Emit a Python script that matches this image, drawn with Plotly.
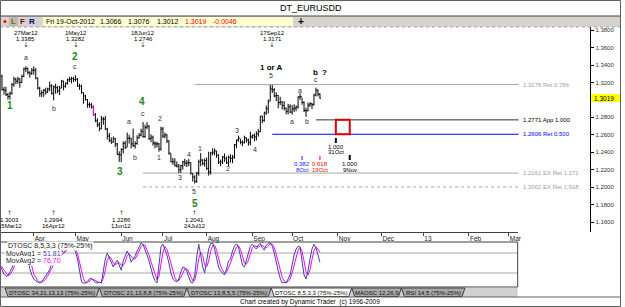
import numpy as np
import pandas as pd
import plotly.graph_objects as go

W, H = 625, 307

# ---------------- data ----------------
START_DATE = "2012-03-07"
END_DATE = "2012-10-19"

OPEN = [1.3125,1.3140,1.3270,1.3120,1.3110,1.3060,1.3040,1.3075,1.3175,1.3240,1.3215,1.3240,1.3200,1.3270,1.3355,1.3360,1.3315,1.3305,
        1.3340,1.3340,1.3250,1.3135,1.3070,1.3085,1.3110,1.3090,1.3125,1.3160,1.3075,1.3150,1.3140,1.3105,1.3135,1.3215,1.3155,1.3190,1.3230,1.3235,1.3245,
        1.3235,1.3235,1.3160,1.3155,1.3085,1.3045,1.3005,1.2945,1.2945,1.2915,1.2830,1.2760,1.2715,1.2670,1.2780,1.2780,1.2665,1.2585,1.2535,1.2515,1.2555,1.2495,1.2375,
        1.2370,1.2430,1.2500,1.2455,1.2560,1.2560,1.2495,1.2475,1.2500,1.2565,1.2595,1.2640,1.2580,1.2685,1.2700,1.2555,1.2570,1.2505,1.2495,1.2495,1.2435,
        1.2665,1.2585,1.2600,1.2530,1.2390,1.2290,1.2290,1.2250,1.2240,1.2200,1.2245,1.2290,1.2275,1.2275,1.2280,1.2155,1.2115,1.2065,1.2160,1.2290,1.2310,1.2270,
        1.2305,1.2215,1.2175,1.2390,1.2400,1.2415,1.2365,1.2285,1.2290,1.2345,1.2330,1.2280,1.2340,1.2330,1.2345,1.2485,1.2540,1.2560,1.2515,1.2510,1.2565,1.2540,1.2510,
        1.2575,1.2590,1.2575,1.2610,1.2635,1.2815,1.2765,1.2850,1.2900,1.2985,1.3125,1.3115,1.3045,1.3050,1.2970,1.2975,1.2935,1.2905,1.2870,1.2920,
        1.2860,1.2895,1.2905,1.2920,1.3035,1.3035,1.2970,1.2880,1.2875,1.2940,1.2955,1.2945,1.3055,1.3110,1.3066]
HIGH = [1.3155,1.3290,1.3290,1.3150,1.3150,1.3080,1.3095,1.3195,1.3265,1.3250,1.3265,1.3245,1.3290,1.3370,1.3385,1.3370,1.3330,1.3365,
        1.3383,1.3365,1.3255,1.3150,1.3110,1.3125,1.3140,1.3140,1.3210,1.3180,1.3165,1.3185,1.3160,1.3160,1.3230,1.3220,1.3200,1.3245,1.3265,1.3265,1.3265,
        1.3282,1.3250,1.3185,1.3175,1.3085,1.3060,1.3010,1.2975,1.2965,1.2940,1.2850,1.2790,1.2745,1.2815,1.2805,1.2815,1.2680,1.2620,1.2570,1.2580,1.2565,1.2505,1.2410,
        1.2445,1.2525,1.2530,1.2626,1.2600,1.2565,1.2672,1.2525,1.2595,1.2620,1.2670,1.2746,1.2715,1.2745,1.2710,1.2605,1.2590,1.2525,1.2520,1.2505,1.2693,
        1.2690,1.2625,1.2605,1.2535,1.2385,1.2335,1.2330,1.2295,1.2265,1.2255,1.2300,1.2325,1.2310,1.2325,1.2285,1.2160,1.2135,1.2175,1.2315,1.2390,1.2320,1.2330,
        1.2340,1.2405,1.2405,1.2445,1.2443,1.2415,1.2380,1.2315,1.2355,1.2385,1.2350,1.2360,1.2375,1.2370,1.2495,1.2545,1.2590,1.2550,1.2535,1.2590,1.2570,1.2555,1.2635,
        1.2605,1.2615,1.2640,1.2665,1.2815,1.2815,1.2865,1.2935,1.3005,1.3170,1.3171,1.3135,1.3085,1.3055,1.3035,1.2985,1.2985,1.2910,1.2955,1.2950,
        1.2940,1.2950,1.2935,1.3040,1.3075,1.3025,1.2985,1.2910,1.2970,1.2975,1.2965,1.3070,1.3140,1.3120,1.3076]
LOW = [1.3105,1.3140,1.3105,1.3060,1.3045,1.3005,1.3003,1.3060,1.3150,1.3180,1.3185,1.3140,1.3195,1.3260,1.3320,1.3290,1.3255,1.3285,
       1.3290,1.3235,1.3120,1.3035,1.3030,1.3035,1.3060,1.3080,1.3100,1.3060,1.2994,1.3070,1.3075,1.3055,1.3135,1.3110,1.3140,1.3175,1.3205,1.3190,1.3205,
       1.3210,1.3150,1.3115,1.3070,1.2955,1.2990,1.2910,1.2910,1.2900,1.2815,1.2745,1.2690,1.2640,1.2665,1.2715,1.2655,1.2545,1.2515,1.2495,1.2510,1.2460,1.2370,1.2290,
       1.2286,1.2385,1.2435,1.2460,1.2500,1.2445,1.2460,1.2440,1.2485,1.2555,1.2580,1.2565,1.2565,1.2665,1.2540,1.2515,1.2475,1.2445,1.2455,1.2406,1.2420,
       1.2560,1.2560,1.2505,1.2370,1.2285,1.2255,1.2235,1.2225,1.2160,1.2165,1.2200,1.2240,1.2230,1.2240,1.2145,1.2065,1.2041,1.2050,1.2130,1.2240,1.2250,1.2235,
       1.2195,1.2132,1.2145,1.2365,1.2365,1.2335,1.2265,1.2240,1.2265,1.2290,1.2265,1.2240,1.2280,1.2275,1.2325,1.2445,1.2520,1.2490,1.2470,1.2500,1.2510,1.2475,1.2480,
       1.2555,1.2525,1.2535,1.2580,1.2630,1.2735,1.2750,1.2830,1.2845,1.2990,1.3080,1.3030,1.2985,1.2905,1.2940,1.2890,1.2880,1.2835,1.2835,1.2850,
       1.2830,1.2860,1.2870,1.2900,1.3000,1.2945,1.2860,1.2805,1.2870,1.2920,1.2895,1.2935,1.3040,1.3040,1.3012]
CLOSE = [1.3140,1.3270,1.3120,1.3110,1.3060,1.3040,1.3075,1.3175,1.3240,1.3215,1.3240,1.3200,1.3270,1.3355,1.3360,1.3315,1.3305,1.3340,
         1.3340,1.3250,1.3135,1.3070,1.3085,1.3110,1.3090,1.3125,1.3160,1.3075,1.3150,1.3140,1.3105,1.3135,1.3215,1.3155,1.3190,1.3230,1.3235,1.3245,1.3235,
         1.3235,1.3160,1.3155,1.3085,1.3045,1.3005,1.2945,1.2945,1.2915,1.2830,1.2760,1.2715,1.2670,1.2780,1.2780,1.2665,1.2585,1.2535,1.2515,1.2555,1.2495,1.2375,1.2370,
         1.2430,1.2500,1.2455,1.2560,1.2560,1.2495,1.2475,1.2500,1.2565,1.2595,1.2640,1.2580,1.2685,1.2700,1.2555,1.2570,1.2505,1.2495,1.2495,1.2435,1.2665,
         1.2585,1.2600,1.2530,1.2390,1.2290,1.2290,1.2250,1.2240,1.2200,1.2245,1.2290,1.2275,1.2275,1.2280,1.2155,1.2115,1.2065,1.2160,1.2290,1.2310,1.2270,1.2305,
         1.2215,1.2175,1.2390,1.2400,1.2415,1.2365,1.2285,1.2290,1.2345,1.2330,1.2280,1.2340,1.2330,1.2345,1.2485,1.2540,1.2560,1.2515,1.2510,1.2565,1.2540,1.2510,1.2575,
         1.2590,1.2575,1.2610,1.2635,1.2815,1.2765,1.2850,1.2900,1.2985,1.3125,1.3115,1.3045,1.3050,1.2970,1.2975,1.2935,1.2905,1.2870,1.2920,1.2860,
         1.2895,1.2905,1.2920,1.3035,1.3035,1.2970,1.2880,1.2875,1.2940,1.2955,1.2945,1.3055,1.3110,1.3065,1.3019]

OSC_FAST = [40,44,33,22,17,18,28,37,55,68,75,72,82,93,97,70,36,20,
            10,5,2,0,3,10,18,26,33,50,58,65,60,66,82,76,80,88,92,90,84,
            78,60,30,3,0,0,4,10,12,6,1,0,2,0,35,60,75,62,48,40,50,57,45,
            32,55,68,80,70,52,60,68,80,92,100,96,85,70,55,35,18,6,0,45,
            90,97,85,70,50,25,10,5,3,10,28,40,38,30,15,2,0,20,65,97,70,40,
            25,55,85,98,100,85,60,40,30,25,20,35,55,60,80,92,98,90,65,45,40,55,75,
            92,97,90,85,95,99,88,82,95,99,100,92,75,50,30,12,0,2,0,10,
            20,45,70,85,92,90,55,20,10,30,60,85,97,88,70,51.81]
OSC_SLOW = [45,43,40,32,24,19,21,28,40,53,66,72,76,83,91,87,68,42,
            22,12,6,2,2,5,10,18,26,36,47,58,61,64,69,75,79,81,87,90,89,
            84,74,56,31,11,1,1,5,9,9,6,2,1,1,12,32,57,66,62,50,46,49,51,
            45,44,52,68,73,67,61,60,69,80,91,96,94,84,70,53,36,20,8,17,
            45,77,91,84,68,48,28,13,6,6,14,26,35,36,28,16,6,7,28,61,77,69,
            45,40,55,79,94,94,82,62,43,32,25,27,37,50,65,77,90,93,84,67,50,47,57,
            74,88,93,91,90,93,94,90,88,92,98,97,89,72,52,31,14,5,1,4,
            10,25,45,67,82,89,79,55,28,20,33,58,81,90,85,76.70]

HIGHLIGHT_DATE = "2012-05-14"

MONTH_STARTS = ["2012-04-01","2012-05-01","2012-06-01","2012-07-01","2012-08-01","2012-09-01",
                "2012-10-01","2012-11-01","2012-12-01","2013-01-01","2013-02-01","2013-03-01"]
MONTH_LABELS = ["Apr","May","Jun","Jul","Aug","Sep","Oct","Nov","Dec","13","Feb","Mar"]

PRICE_TICKS = [1.38,1.36,1.34,1.32,1.28,1.26,1.24,1.22,1.20,1.18,1.16]

SWING_HIGHS = ["2012-03-27","2012-05-01","2012-06-18","2012-09-17"]
SWING_LOWS = ["2012-03-15","2012-04-16","2012-06-01","2012-07-24"]

LEVELS = [1.3176, 1.2771, 1.2606, 1.2161, 1.2002]
LEVEL_TEXT = ["Ret 0.786", "App 1.000", "Ret 0.500", "EX Ret 1.272", "EX Ret 1.618"]
LEVEL_FROM = ["2012-07-24", "2012-10-17", "2012-09-17", "2012-06-18", "2012-06-18"]
LEVEL_END = "2013-03-08"

TIME_DATES = ["2012-10-31", "2012-10-08", "2012-10-19", "2012-11-09"]
TIME_RATIOS = ["1.000", "0.382", "0.618", "1.000"]

TOOLBAR_DATE = "Fri 19-Oct-2012"
TOOLBAR_VALUES = ["1.3066", "1.3076", "1.3012", "1.3019", "-0.0046"]
LAST_PRICE = 1.3019
MOVAVG1 = "51.81"
MOVAVG2 = "76.70"

TABS = ["DTOSC 34,21,13,13 (75%-25%)", "DTOSC 21,13,8,8 (75%-25%)", "DTOSC 13,8,5,5 (75%-25%)",
        "DTOSC 8,5,3,3 (75%-25%)", "MAOSC 12,26,9", "RSI 14,5 (75%-25%)"]

# ---------------- helpers ----------------
FONT = "Liberation Sans"
dates = pd.bdate_range(START_DATE, END_DATE)


def bidx(d):
    return int(np.busday_count(np.datetime64(START_DATE), np.datetime64(pd.Timestamp(d).strftime("%Y-%m-%d"))))


def X(px):
    return px / W


def Y(py):
    return 1 - py / H


xi = [bidx(d) for d in dates]

# pixel geometry: 2 px per trading day; index 1 at left edge
PXD = 2.0
I0 = 1.0
MAIN_R = 594
OSC_R = 521
PRICE_TOP_Y, PRICE_BOT_Y = 27, 232
P_AT_65, PPU = 1.34, 872.2


def price_at(py):
    return P_AT_65 - (py - 65) / PPU


OSC_TOP, OSC_BOT = 242, 287

fig = go.Figure()

fig.add_trace(go.Ohlc(x=xi, open=OPEN, high=HIGH, low=LOW, close=CLOSE,
                      increasing=dict(line=dict(color="black", width=1)),
                      decreasing=dict(line=dict(color="black", width=1)),
                      tickwidth=0.5, hoverinfo="skip", xaxis="x", yaxis="y"))
hi = dates.get_loc(pd.Timestamp(HIGHLIGHT_DATE))
fig.add_trace(go.Ohlc(x=[xi[hi]], open=[OPEN[hi]], high=[HIGH[hi]], low=[LOW[hi]], close=[CLOSE[hi]],
                      increasing=dict(line=dict(color="#ff00ff", width=1)),
                      decreasing=dict(line=dict(color="#ff00ff", width=1)),
                      tickwidth=0.5, hoverinfo="skip", xaxis="x", yaxis="y"))

fig.add_trace(go.Scatter(x=xi, y=OSC_SLOW, mode="lines", line=dict(color="#ff00ff", width=1),
                         xaxis="x2", yaxis="y2", hoverinfo="skip"))
fig.add_trace(go.Scatter(x=xi, y=OSC_FAST, mode="lines", line=dict(color="#4040a8", width=1),
                         xaxis="x2", yaxis="y2", hoverinfo="skip"))

shapes = []
ann = []


def txt(x, y, text, size=6.5, color="#000000", xanchor="center", xref="paper", yref="paper",
        bg=None, bold=False, family=FONT, yanchor="middle"):
    if bold:
        text = "<b>" + text + "</b>"
    d = dict(x=X(x) if xref == "paper" else x, y=Y(y) if yref == "paper" else y,
             xref=xref, yref=yref, text=text, showarrow=False, xanchor=xanchor, yanchor=yanchor,
             font=dict(size=size, color=color, family=family), borderpad=0)
    if bg:
        d["bgcolor"] = bg
    ann.append(d)


# ---------- header / toolbar ----------
txt(312.5, 8, "DT_EURUSDD", size=9)
shapes.append(dict(type="rect", xref="paper", yref="paper", x0=0, x1=1, y0=Y(27), y1=Y(16),
                   fillcolor="#d6d3ce", line=dict(width=0), layer="below"))
shapes.append(dict(type="line", xref="paper", yref="paper", x0=0, x1=1, y0=Y(16), y1=Y(16),
                   line=dict(color="#404040", width=1)))
shapes.append(dict(type="line", xref="paper", yref="paper", x0=0, x1=1, y0=Y(27), y1=Y(27),
                   line=dict(color="#a0a0a0", width=1, dash="dot")))
shapes.append(dict(type="rect", xref="paper", yref="paper", x0=X(43), x1=X(295), y0=Y(26), y1=Y(17),
                   fillcolor="#ffffd4", line=dict(width=0), layer="below"))
shapes.append(dict(type="rect", xref="paper", yref="paper", x0=X(9), x1=X(18), y0=Y(26), y1=Y(17),
                   fillcolor="#bdbab4", line=dict(width=0), layer="below"))
shapes.append(dict(type="circle", xref="paper", yref="paper", x0=X(3.5), x1=X(6.5), y0=Y(23), y1=Y(20),
                   fillcolor="#ff0000", line=dict(width=0)))
txt(13.5, 21.5, "L", size=8, color="#707000", bold=True)
txt(23, 21.5, "F", size=8, color="#800000", bold=True)
txt(32, 21.5, "R", size=8, color="#000080", bold=True)
txt(45, 21.5, TOOLBAR_DATE, size=7, xanchor="left")
for xp, v, c in zip([100, 128, 157, 185, 213], TOOLBAR_VALUES,
                    ["#000000", "#000000", "#000000", "#ff0000", "#ff0000"]):
    txt(xp, 21.5, v, size=7, color=c, xanchor="left")
txt(303, 21.5, "+", size=10, bold=True)

# ---------- projection levels ----------
lev_colors = ["#a8a8a8", "#303030", "#0000ff", "#a8a8a8", "#a8a8a8"]
lev_dash = ["solid", "solid", "solid", "solid", "dot"]
lev_txtc = ["#a0a0a0", "#000000", "#0000ff", "#a0a0a0", "#a0a0a0"]
xe = bidx(LEVEL_END)
for lv, lt, lf, c, ds, tc in zip(LEVELS, LEVEL_TEXT, LEVEL_FROM, lev_colors, lev_dash, lev_txtc):
    shapes.append(dict(type="line", xref="x", yref="y", x0=bidx(lf), x1=xe, y0=lv, y1=lv,
                       line=dict(color=c, width=1, dash=ds), layer="below"))
    txt(xe + 1.5, lv, f"{lv:.4f} {lt}", size=6, color=tc, xanchor="left", xref="x", yref="y")

# target box
shapes.append(dict(type="rect", xref="x", yref="y", x0=bidx(TIME_DATES[0]), x1=bidx(TIME_DATES[3]),
                   y0=LEVELS[2], y1=LEVELS[1], line=dict(color="#e00000", width=2)))

# time targets
t_cols = ["#000000", "#2020ff", "#ff0000", "#000000"]
t_rows = [(138, 143, 146.5, 152), (156, 160, 164, 170), (156, 160, 164, 170), (155, 160, 164, 170)]
t_w = [2, 1, 1, 2]
for d, r, c, (a0, a1, l1, l2), w in zip(TIME_DATES, TIME_RATIOS, t_cols, t_rows, t_w):
    xd = bidx(d)
    shapes.append(dict(type="line", xref="x", yref="paper", x0=xd, x1=xd, y0=Y(a1), y1=Y(a0),
                       line=dict(color=c, width=w)))
    ts = pd.Timestamp(d)
    txt(xd, l1, r, size=6, color=c, xref="x")
    txt(xd, l2, f"{ts.day}{ts.strftime('%b')}", size=6, color=c, xref="x")

# swing highs / lows
for d in SWING_HIGHS:
    k = dates.get_loc(pd.Timestamp(d))
    ts = pd.Timestamp(d)
    txt(xi[k], 33, f"{ts.day}{ts.strftime('%b%y')}", size=6, xref="x")
    txt(xi[k], 39, f"{HIGH[k]:.4f}", size=6, xref="x")
    txt(xi[k], 45, "↓", size=7, xref="x", color="#404040", family="DejaVu Sans")
for d in SWING_LOWS:
    k = dates.get_loc(pd.Timestamp(d))
    ts = pd.Timestamp(d)
    txt(xi[k], 212.5, "↑", size=6, xref="x", color="#404040", family="DejaVu Sans")
    txt(xi[k], 219.5, f"{LOW[k]:.4f}", size=6, xref="x")
    txt(xi[k], 225.5, f"{ts.day}{ts.strftime('%b%y')}", size=6, xref="x")

# wave labels
GREEN = "#1a8a1a"
for t, xp, yp in [("1", 10, 106), ("2", 75, 57), ("3", 121, 171), ("4", 143, 102), ("5", 196, 203)]:
    txt(xp, yp, t, size=10, color=GREEN, bold=True)
for t, xp, yp in [("a", 26, 58), ("c", 75, 66), ("b", 54, 109), ("a", 130, 122), ("b", 136, 157),
                  ("c", 144, 114), ("2", 161, 119), ("1", 160, 157), ("3", 181, 177), ("4", 190, 154),
                  ("5", 195, 191), ("1", 201, 148), ("2", 229, 168), ("3", 239, 130), ("4", 257, 149),
                  ("5", 273, 75), ("a", 294, 122), ("a", 302, 90), ("b", 309, 122), ("c", 318, 79)]:
    txt(xp, yp, t, size=7, color="#303030")
txt(273, 67, "1 or A", size=8, bold=True)
txt(318, 72.5, "b", size=8, bold=True)
txt(327, 72.5, "?", size=8, bold=True)

# last price marker
shapes.append(dict(type="rect", xref="paper", yref="y", x0=X(595), x1=X(625),
                   y0=price_at(102), y1=price_at(94), fillcolor="#ffff00", line=dict(width=0)))
txt(597, LAST_PRICE, f"{LAST_PRICE:.4f}", size=6.5, xanchor="left", yref="y")

# ---------- oscillator panel ----------
shapes.append(dict(type="rect", xref="x2 domain", yref="y2 domain", x0=0, x1=1, y0=0, y1=1,
                   line=dict(color="#404040", width=1)))
for lv in (75, 25):
    shapes.append(dict(type="line", xref="x2 domain", yref="y2", x0=0, x1=1, y0=lv, y1=lv,
                       line=dict(color="#a8a8a8", width=1), layer="below"))
txt(7, 246, "DTOSC 8,5,3,3 (75%-25%)", size=7, xanchor="left", bg="white", color="#202020")
txt(5, 253.5, f"MovAvg1 = <span style='color:#4040a8'>{MOVAVG1}</span>", size=7, xanchor="left",
    bg="white", color="#202020")
txt(5, 261, f"MovAvg2 = <span style='color:#ff00ff'>{MOVAVG2}</span>", size=7, xanchor="left",
    bg="white", color="#202020")

# ---------- tabs ----------
shapes.append(dict(type="rect", xref="paper", yref="paper", x0=0, x1=X(521), y0=Y(297), y1=Y(288),
                   fillcolor="#d0d0d0", line=dict(width=0), layer="below"))
tab_x = [(5, 100), (100, 188), (188, 273), (273, 354), (354, 404), (404, 468)]
for i, ((a, b), t) in enumerate(zip(tab_x, TABS)):
    active = (i == 3)
    path = f"M {X(a)},{Y(288)} L {X(a + 3)},{Y(296.5)} L {X(b - 3)},{Y(296.5)} L {X(b)},{Y(288)} Z"
    shapes.append(dict(type="path", xref="paper", yref="paper", path=path,
                       fillcolor="white" if active else "#a9a9a9", line=dict(color="#404040", width=1)))
    txt((a + b) / 2, 292.5, t, size=6, color="#101010")
shapes.append(dict(type="line", xref="paper", yref="paper", x0=0, x1=1, y0=Y(297), y1=Y(297),
                   line=dict(color="#606060", width=1)))
txt(312, 301.5, "Chart created by Dynamic Trader  (c) 1996-2009", size=6.5)

# outer border
shapes.append(dict(type="rect", xref="paper", yref="paper", x0=X(0.5), x1=X(624.5), y0=Y(306.5), y1=Y(0.5),
                   line=dict(color="#606060", width=1)))

month_idx = [bidx(m) for m in MONTH_STARTS]

fig.update_layout(
    width=W, height=H, margin=dict(l=0, r=0, t=0, b=0),
    paper_bgcolor="white", plot_bgcolor="white", showlegend=False, hovermode=False,
    font=dict(family=FONT, size=7, color="#000000"),
    xaxis=dict(domain=[0, MAIN_R / W], range=[I0, I0 + MAIN_R / PXD], showticklabels=False,
               showgrid=False, zeroline=False, showline=False, ticks="", rangeslider=dict(visible=False),
               fixedrange=True),
    yaxis=dict(domain=[Y(PRICE_BOT_Y), Y(PRICE_TOP_Y)], range=[price_at(PRICE_BOT_Y), price_at(PRICE_TOP_Y)],
               side="right", anchor="x", showgrid=False, zeroline=False, showline=True,
               linecolor="#000000", linewidth=1, ticks="outside", ticklen=3, tickcolor="#000000",
               tickvals=PRICE_TICKS, ticktext=[f"{v:.4f}" for v in PRICE_TICKS],
               tickfont=dict(size=6, color="#303030")),
    xaxis2=dict(domain=[0, OSC_R / W], range=[I0, I0 + OSC_R / PXD], anchor="free", position=Y(PRICE_BOT_Y),
                side="bottom", showgrid=False, zeroline=False, showline=True, linecolor="#404040",
                ticks="outside", ticklen=3, tickcolor="#404040", tickvals=month_idx, ticktext=MONTH_LABELS,
                ticklabelposition="outside right", tickfont=dict(size=6.5, color="#202020")),
    yaxis2=dict(domain=[Y(OSC_BOT), Y(OSC_TOP)], range=[(283 - OSC_BOT) / 0.4, (283 - OSC_TOP) / 0.4],
                anchor="x2", showgrid=False, zeroline=False, showline=False, showticklabels=False, ticks=""),
    shapes=shapes, annotations=ann,
)

fig.write_html("out.html")
